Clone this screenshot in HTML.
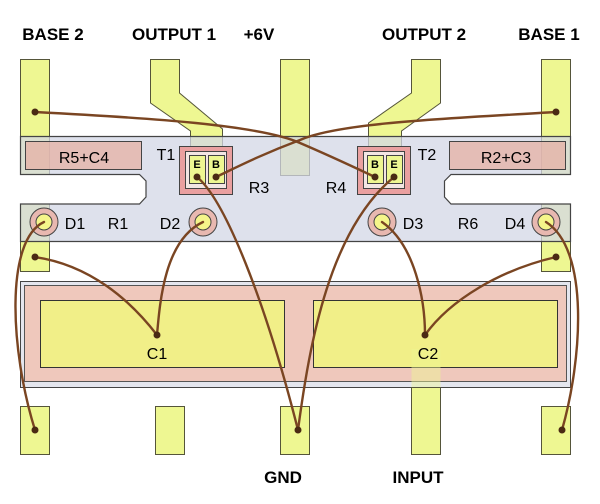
<!DOCTYPE html>
<html><head><style>body{margin:0;background:#fff}svg{display:block}</style></head><body>
<svg width="600" height="504" viewBox="0 0 600 504" xmlns="http://www.w3.org/2000/svg" font-family="Liberation Sans, sans-serif">
<g fill="#eef792" stroke="#55553a" stroke-width="1">
<rect x="20.5" y="59.5" width="29" height="115"/>
<rect x="20.5" y="204" width="29" height="67.5"/>
<rect x="541.5" y="59.5" width="29" height="115"/>
<rect x="541.5" y="204" width="29" height="67.5"/>
<rect x="280.5" y="59.5" width="29" height="116"/>
<polygon points="150.5,59.5 179.5,59.5 179.5,93 222.5,129 222.5,150 190.5,150 190.5,131 150.5,103"/>
<polygon points="411.5,59.5 440.5,59.5 440.5,103 401.5,131 401.5,150 368.5,150 368.5,123 411.5,93"/>
</g>
<path d="M20.5,136.5 H570.5 V174.5 H451 L444.5,181 V197 L451,204 H570.5 V241.5 H20.5 V204 H139.5 L146,197 V181 L139.5,174.5 H20.5 Z" fill="#d3d7e6" fill-opacity="0.75" stroke="#444" stroke-width="1.2"/>
<rect x="25.5" y="141.5" width="116" height="28" fill="#e6b0a4" fill-opacity="0.75" stroke="#444"/>
<rect x="449.5" y="141.5" width="116" height="28" fill="#e6b0a4" fill-opacity="0.75" stroke="#444"/>
<g stroke="#444">
<rect x="179.5" y="146.5" width="53" height="48" fill="#eaa0a0"/>
<rect x="185.5" y="151.5" width="41" height="37" fill="#f3e6e3"/>
<rect x="189.5" y="155.5" width="16" height="28" fill="#eef792"/>
<rect x="208.5" y="155.5" width="16" height="28" fill="#eef792"/>
<rect x="357.5" y="146.5" width="53" height="48" fill="#eaa0a0"/>
<rect x="363.5" y="151.5" width="41" height="37" fill="#f3e6e3"/>
<rect x="367.5" y="155.5" width="16" height="28" fill="#eef792"/>
<rect x="386.5" y="155.5" width="16" height="28" fill="#eef792"/>
</g>
<g font-size="11" font-weight="bold" text-anchor="middle">
<text x="197" y="168">E</text><text x="216" y="168">B</text>
<text x="375" y="168">B</text><text x="394" y="168">E</text>
</g>
<g stroke="#444">
<circle cx="44" cy="222" r="14" fill="#e8b8b0"/><circle cx="44" cy="222" r="8" fill="#f5f58a"/>
<circle cx="203" cy="222" r="14" fill="#e8b8b0"/><circle cx="203" cy="222" r="8" fill="#f5f58a"/>
<circle cx="382" cy="222" r="14" fill="#e8b8b0"/><circle cx="382" cy="222" r="8" fill="#f5f58a"/>
<circle cx="546" cy="222" r="14" fill="#e8b8b0"/><circle cx="546" cy="222" r="8" fill="#f5f58a"/>
</g>
<rect x="20.5" y="281.5" width="550" height="106" fill="#e4e6ee" stroke="#444"/>
<rect x="24.5" y="285.5" width="542" height="96" fill="#efc8bc" stroke="#555"/>
<rect x="40.5" y="300.5" width="244" height="67" fill="#f1ef88" stroke="#333"/>
<rect x="313.5" y="300.5" width="244" height="67" fill="#f1ef88" stroke="#333"/>
<g fill="#eef792" stroke="#55553a">
<rect x="20.5" y="406.5" width="29" height="48"/>
<rect x="155.5" y="406.5" width="29" height="48"/>
<rect x="280.5" y="406.5" width="29" height="48"/>
<rect x="541.5" y="406.5" width="29" height="48"/>
<rect x="411.5" y="387.5" width="29" height="67"/>
</g>
<rect x="411.5" y="349" width="29" height="38" fill="#eef792" fill-opacity="0.45" stroke="none"/>
<g font-size="16" text-anchor="middle">
<text x="84" y="163">R5+C4</text><text x="166" y="160">T1</text><text x="259" y="193">R3</text>
<text x="336" y="193">R4</text><text x="427" y="160">T2</text><text x="506" y="163">R2+C3</text>
<text x="75" y="229">D1</text><text x="118" y="229">R1</text><text x="170" y="229">D2</text>
<text x="413" y="229">D3</text><text x="468" y="229">R6</text><text x="515" y="229">D4</text>
<text x="157" y="359">C1</text><text x="428" y="359">C2</text>
</g>
<g font-size="17" font-weight="bold" text-anchor="middle">
<text x="53" y="40">BASE 2</text><text x="174" y="40">OUTPUT 1</text><text x="259" y="40">+6V</text>
<text x="424" y="40">OUTPUT 2</text><text x="549" y="40">BASE 1</text>
<text x="283" y="483">GND</text><text x="418" y="483">INPUT</text>
</g>
<g fill="none" stroke="#7a4522" stroke-width="2.4" stroke-linecap="round">
<path d="M35,112 C150,118 260,125 300,143 C335,158 360,170 375,177"/>
<path d="M556,112 C460,118 340,122 300,140 C260,155 235,168 216,177"/>
<path d="M197,177 C225,200 265,300 298,430"/>
<path d="M394,177 C330,230 310,340 298,430"/>
<path d="M44,222 C5,240 10,350 35,430"/>
<path d="M203,222 C165,240 160,300 157,335"/>
<path d="M35,257 C90,265 130,300 157,335"/>
<path d="M382,222 C415,245 425,300 425,335"/>
<path d="M556,257 C500,270 450,300 425,335"/>
<path d="M546,222 C590,250 582,360 562,430"/>
</g>
<g fill="#4a2a14">
<circle cx="35" cy="112" r="3.5"/><circle cx="556" cy="112" r="3.5"/>
<circle cx="35" cy="257" r="3.5"/><circle cx="556" cy="257" r="3.5"/>
<circle cx="197" cy="177" r="3.5"/><circle cx="216" cy="177" r="3.5"/>
<circle cx="375" cy="177" r="3.5"/><circle cx="394" cy="177" r="3.5"/>
<circle cx="157" cy="335" r="3.5"/><circle cx="425" cy="335" r="3.5"/>
<circle cx="35" cy="430" r="3.5"/><circle cx="298" cy="430" r="3.5"/><circle cx="562" cy="430" r="3.5"/>
</g>
</svg>
</body></html>
